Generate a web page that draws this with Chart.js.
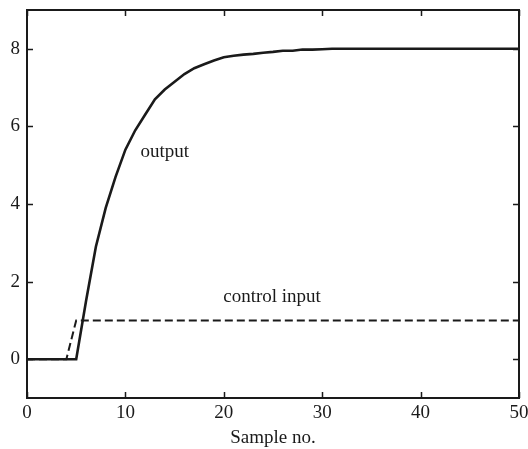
<!DOCTYPE html>
<html>
<head>
<meta charset="utf-8">
<script src="https://cdn.jsdelivr.net/npm/chart.js@4/dist/chart.umd.min.js"></script>
<style>
  html, body { margin: 0; padding: 0; background: #fff; }
  #wrap { width: 528px; height: 449px; }
</style>
</head>
<body>
<div id="wrap"><canvas id="c" width="528" height="449"></canvas></div>
<script>
// ---- data ----
const samples = Array.from({length: 51}, (_, i) => i); // sample numbers 0..50
const outputValues = [
  0, 0, 0, 0, 0, 0, 1.5, 2.9, 3.9, 4.7,
  5.4, 5.9, 6.3, 6.7, 6.95, 7.15, 7.35, 7.5, 7.6, 7.7,
  7.78, 7.82, 7.85, 7.87, 7.9, 7.92, 7.95, 7.95, 7.98, 7.98,
  7.99, 8, 8, 8, 8, 8, 8, 8, 8, 8,
  8, 8, 8, 8, 8, 8, 8, 8, 8, 8, 8
];
const controlValues = [
  0, 0, 0, 0, 0, 1, 1, 1, 1, 1,
  1, 1, 1, 1, 1, 1, 1, 1, 1, 1,
  1, 1, 1, 1, 1, 1, 1, 1, 1, 1,
  1, 1, 1, 1, 1, 1, 1, 1, 1, 1,
  1, 1, 1, 1, 1, 1, 1, 1, 1, 1, 1
];
const xTicks = [0, 10, 20, 30, 40, 50];
const yTicks = [0, 2, 4, 6, 8];
const annotationTexts = ["output", "control input"];
const annotationX = [14.0, 24.9];
const annotationY = [5.34, 1.59];
const xTitle = "Sample no.";

const FONT = "'Liberation Serif', 'Times New Roman', serif";

const framePlugin = {
  id: 'frame',
  afterDatasetsDraw(chart) {
    const ctx = chart.ctx;
    const a = chart.chartArea;
    const xs = chart.scales.x, ys = chart.scales.y;
    ctx.save();
    ctx.strokeStyle = '#1a1a1a';
    ctx.lineWidth = 2;
    ctx.strokeRect(a.left, a.top, a.right - a.left, a.bottom - a.top);
    ctx.lineWidth = 1.5;
    const tl = 6;
    ctx.beginPath();
    xTicks.forEach(v => {
      const px = Math.round(xs.getPixelForValue(v)) + 0.5;
      ctx.moveTo(px, a.bottom); ctx.lineTo(px, a.bottom - tl);
      ctx.moveTo(px, a.top); ctx.lineTo(px, a.top + tl);
    });
    yTicks.forEach(v => {
      const py = Math.round(ys.getPixelForValue(v)) + 0.5;
      ctx.moveTo(a.left, py); ctx.lineTo(a.left + tl, py);
      ctx.moveTo(a.right, py); ctx.lineTo(a.right - tl, py);
    });
    ctx.stroke();
    // text annotations
    ctx.fillStyle = '#1a1a1a';
    ctx.font = "19px " + FONT;
    ctx.textAlign = 'center';
    ctx.textBaseline = 'middle';
    annotationTexts.forEach((t, i) => {
      ctx.fillText(t, xs.getPixelForValue(annotationX[i]), ys.getPixelForValue(annotationY[i]));
    });
    ctx.restore();
  }
};

new Chart(document.getElementById('c'), {
  type: 'line',
  data: {
    labels: samples,
    datasets: [
      {
        label: 'output',
        data: samples.map((s, i) => ({x: s, y: outputValues[i]})),
        borderColor: '#1a1a1a',
        borderWidth: 2.6,
        pointRadius: 0,
        tension: 0,
        fill: false
      },
      {
        label: 'control input',
        data: samples.map((s, i) => ({x: s, y: controlValues[i]})),
        borderColor: '#1a1a1a',
        borderWidth: 2,
        borderDash: [8, 4],
        pointRadius: 0,
        tension: 0,
        fill: false
      }
    ]
  },
  options: {
    responsive: false,
    animation: false,
    devicePixelRatio: 1,
    layout: { padding: { top: 10, right: 9, bottom: 0, left: 0 } },
    plugins: {
      legend: { display: false },
      tooltip: { enabled: false }
    },
    scales: {
      x: {
        type: 'linear',
        min: 0, max: 50,
        afterBuildTicks: s => { s.ticks = xTicks.map(v => ({value: v})); },
        afterFit: s => {
          s.height = 51;
          s.paddingLeft = 0; s.paddingRight = 0; s.paddingTop = 0; s.paddingBottom = 0;
        },
        grid: { display: false, drawTicks: false },
        border: { display: false },
        ticks: {
          color: '#1a1a1a',
          font: { family: FONT, size: 19 },
          padding: 4,
          maxRotation: 0
        },
        title: {
          display: true,
          text: xTitle,
          color: '#1a1a1a',
          font: { family: FONT, size: 19 },
          padding: { top: 0, bottom: 0 }
        }
      },
      y: {
        type: 'linear',
        min: -1, max: 9,
        afterBuildTicks: s => { s.ticks = yTicks.map(v => ({value: v})); },
        afterFit: s => {
          s.width = 27;
          s.paddingLeft = 0; s.paddingRight = 0; s.paddingTop = 0; s.paddingBottom = 0;
        },
        grid: { display: false, drawTicks: false },
        border: { display: false },
        ticks: {
          color: '#1a1a1a',
          font: { family: FONT, size: 19 },
          padding: 7
        }
      }
    }
  },
  plugins: [framePlugin]
});
</script>
</body>
</html>
